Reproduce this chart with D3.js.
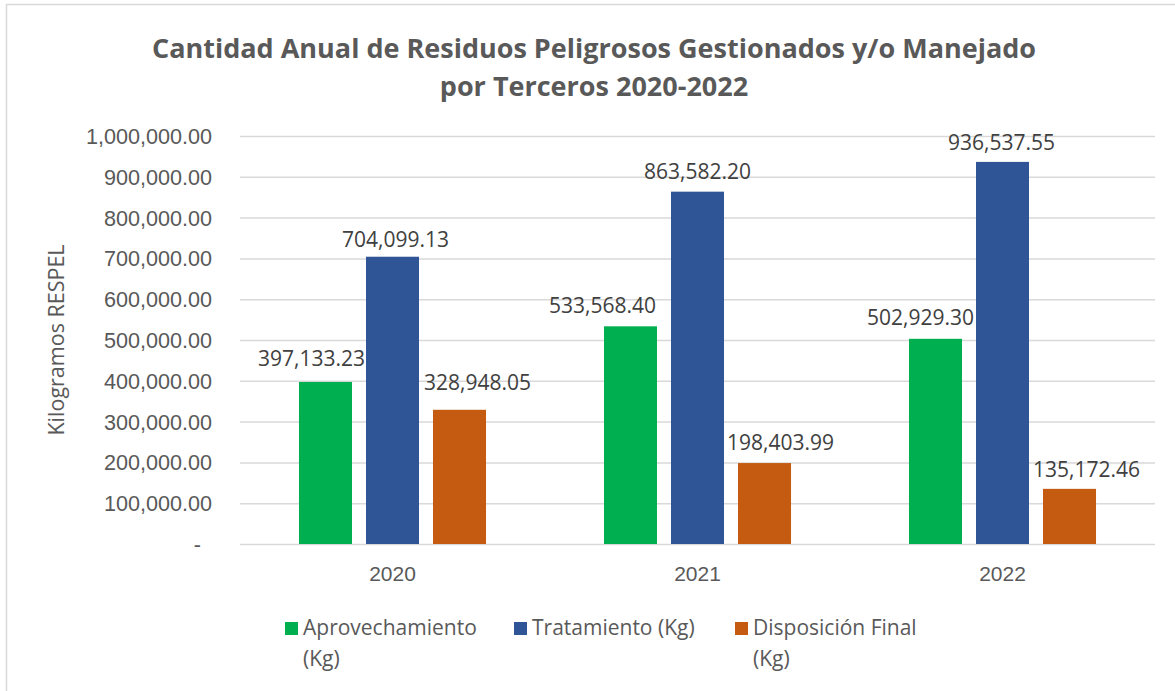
<!DOCTYPE html>
<html>
<head>
<meta charset="utf-8">
<script src="https://cdn.jsdelivr.net/npm/d3@7"></script>
<style>
  body { margin: 0; background: #ffffff; }
  svg { display: block; font-family: "Open Sans", sans-serif; }
</style>
</head>
<body>
<svg id="grafico" width="1175" height="691"></svg>
<script>
"use strict";

// donnees
var annees = ["2020", "2021", "2022"];
var series = ["Aprovechamiento (Kg)", "Tratamiento (Kg)", "Disposición Final (Kg)"];
var aprovechamiento = [397133.23, 533568.40, 502929.30];
var tratamiento = [704099.13, 863582.20, 936537.55];
var disposicionFinal = [328948.05, 198403.99, 135172.46];
var ticksY = [0, 100000, 200000, 300000, 400000, 500000, 600000, 700000, 800000, 900000, 1000000];

var couleurs = ["#00b050", "#2f5597", "#c55a11"];

// decalage des etiquettes (comme dans le fichier excel), par serie puis par annee
var decalagesX = [[-14, -28, -15], [3, 0, -1], [18, 16, 17]];
var decalagesY = [[-16, -13, -14], [-10, -13, -12], [-20, -13, -12]];

var valeurs = [aprovechamiento, tratamiento, disposicionFinal];
var donnees = [];
annees.forEach(function(annee, i) {
    series.forEach(function(serie, s) {
        donnees.push({annee: annee, serie: serie, indiceSerie: s, indiceAnnee: i, valeur: valeurs[s][i]});
    });
});

var svg = d3.select("#grafico");
var gris = "#595959";

// cadre du graphique
svg.append("rect")
    .attr("x", 6.5).attr("y", 4.5)
    .attr("width", 1200).attr("height", 720)
    .attr("fill", "#ffffff")
    .attr("stroke", "#d9d9d9").attr("stroke-width", 1.5);

var gauche = 240, droite = 1155, haut = 136, bas = 544;

var x0 = d3.scaleBand().domain(annees).range([gauche, droite]).padding(0);
var x1 = d3.scaleBand().domain(series).range([0, x0.bandwidth()])
    .paddingInner(0.209).paddingOuter(0.88);
var y = d3.scaleLinear().domain([0, 1000000]).range([bas, haut]);

var formatNombre = d3.format(",.2f");

// grille + axe Y
var axeY = d3.axisLeft(y)
    .tickValues(ticksY)
    .tickSize(-(droite - gauche))
    .tickPadding(28)
    .tickFormat(function(d) { return d === 0 ? "-" : formatNombre(d); });

var gAxeY = svg.append("g").attr("transform", "translate(" + gauche + ",0)").call(axeY);
gAxeY.select(".domain").remove();
gAxeY.selectAll(".tick line").attr("stroke", "#d9d9d9").attr("stroke-width", 1.5);
gAxeY.selectAll(".tick text")
    .attr("fill", gris)
    .style("font-size", "21.6px")
    .attr("dy", "0.35em");
gAxeY.selectAll(".tick text").filter(function(d) { return d === 0; }).attr("dx", -11);

// titre de l'axe Y
svg.append("text")
    .attr("transform", "translate(64,340) rotate(-90)")
    .attr("text-anchor", "middle")
    .attr("fill", gris)
    .style("font-size", "21.5px")
    .text("Kilogramos RESPEL");

// axe X (etiquettes seulement)
var axeX = d3.axisBottom(x0).tickSize(0).tickPadding(22);
var gAxeX = svg.append("g").attr("transform", "translate(0," + bas + ")").call(axeX);
gAxeX.select(".domain").remove();
gAxeX.selectAll(".tick text").attr("fill", gris).style("font-size", "21px");

// barres
var groupes = svg.append("g").selectAll("g")
    .data(annees)
    .enter().append("g")
    .attr("transform", function(d) { return "translate(" + x0(d) + ",0)"; });

groupes.selectAll("rect")
    .data(function(annee) { return donnees.filter(function(e) { return e.annee === annee; }); })
    .enter().append("rect")
    .attr("x", function(d) { return x1(d.serie); })
    .attr("y", function(d) { return y(d.valeur); })
    .attr("width", x1.bandwidth())
    .attr("height", function(d) { return y(0) - y(d.valeur); })
    .attr("fill", function(d) { return couleurs[d.indiceSerie]; });

// etiquettes de donnees
groupes.selectAll("text.etiquette")
    .data(function(annee) { return donnees.filter(function(e) { return e.annee === annee; }); })
    .enter().append("text")
    .attr("class", "etiquette")
    .attr("x", function(d) { return x1(d.serie) + x1.bandwidth() / 2 + decalagesX[d.indiceSerie][d.indiceAnnee]; })
    .attr("y", function(d) { return y(d.valeur) + decalagesY[d.indiceSerie][d.indiceAnnee]; })
    .attr("text-anchor", "middle")
    .attr("fill", "#404040")
    .style("font-size", "21px")
    .text(function(d) { return formatNombre(d.valeur); });

// titre
var titre = svg.append("text")
    .attr("text-anchor", "middle")
    .attr("fill", gris)
    .style("font-size", "27px")
    .style("font-weight", "bold");
titre.append("tspan").attr("x", 594).attr("y", 58).text("Cantidad Anual de Residuos Peligrosos Gestionados y/o Manejado");
titre.append("tspan").attr("x", 594).attr("y", 96).text("por Terceros 2020-2022");

// legende
var legendeX = [285, 514, 735];
var legende = svg.append("g").selectAll("g")
    .data(series)
    .enter().append("g")
    .attr("transform", function(d, i) { return "translate(" + legendeX[i] + ",622)"; });

legende.append("rect")
    .attr("width", 13).attr("height", 13)
    .attr("fill", function(d, i) { return couleurs[i]; });

legende.append("text")
    .attr("fill", gris)
    .style("font-size", "21px")
    .each(function(d) {
        // retour a la ligne si le texte depasse
        var texte = d3.select(this);
        var mots = d.split(" ");
        var ligne = [];
        var tspan = texte.append("tspan").attr("x", 18).attr("y", 13);
        mots.forEach(function(mot) {
            ligne.push(mot);
            tspan.text(ligne.join(" "));
            if (tspan.node().getComputedTextLength() > 190 && ligne.length > 1) {
                ligne.pop();
                tspan.text(ligne.join(" "));
                ligne = [mot];
                tspan = texte.append("tspan").attr("x", 18).attr("dy", 31).text(mot);
            }
        });
    });
</script>
</body>
</html>
